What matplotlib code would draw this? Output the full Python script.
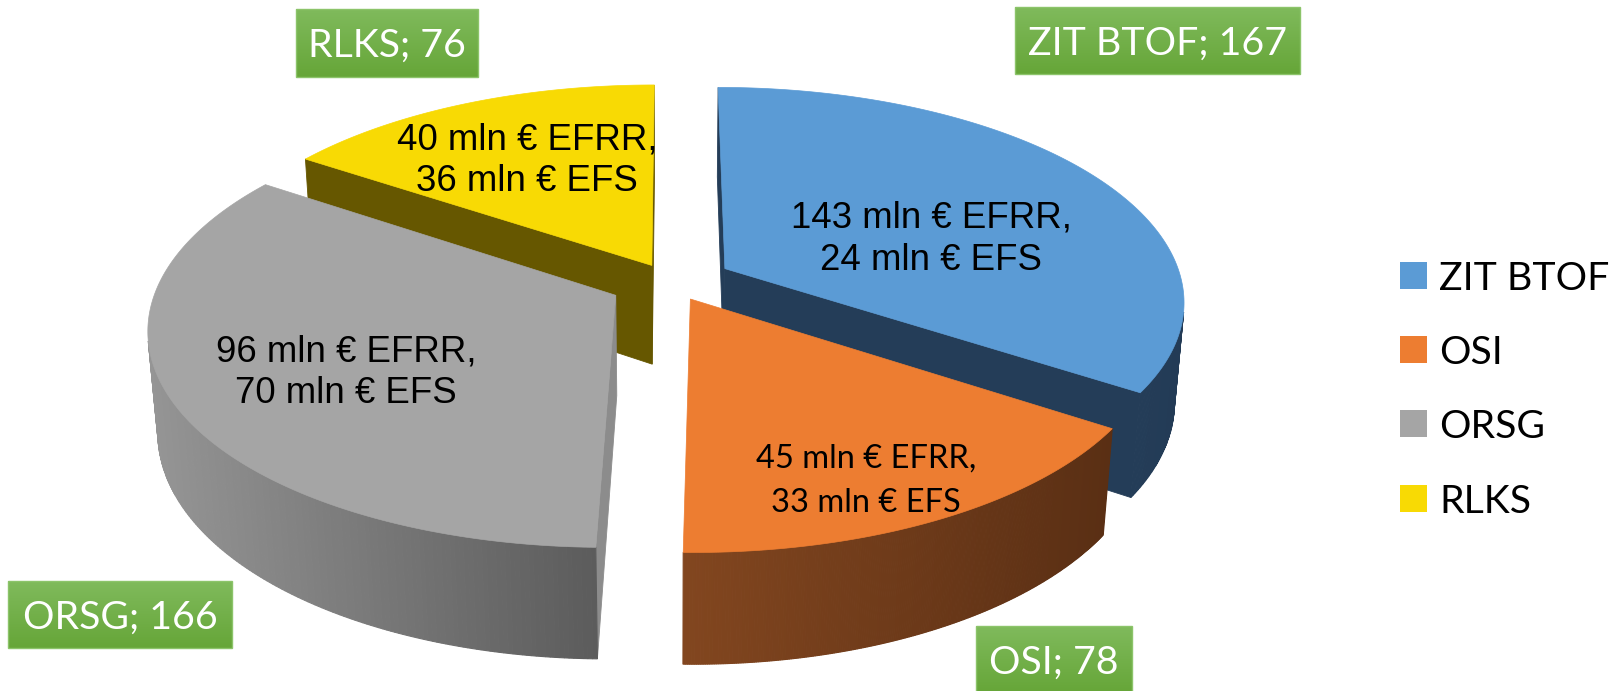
import numpy as np
import matplotlib.pyplot as plt
from matplotlib.patches import Polygon, Rectangle
from matplotlib.colors import to_rgb

# funding per area (mln €)
labels = ["ZIT BTOF", "OSI", "ORSG", "RLKS"]
efrr = [143, 45, 96, 40]
efs = [24, 33, 70, 36]
totals = [a + b for a, b in zip(efrr, efs)]

top_colors = ["#5B9BD5", "#ED7D31", "#A5A5A5", "#F8DA04"]
wall_colors = [("#243D58", "#233B56"), ("#82461F", "#5A2F14"),
               ("#959595", "#5C5C5C"), ("#665700", "#665700")]
cut_colors = ["#243D58", "#6E3A1A", "#8C8C8C", "#665700"]
explode = [0.135, 0.09, 0.135, 0.09]

W, H = 1611, 691
fig = plt.figure(figsize=(W / 100, H / 100), dpi=100)
ax = fig.add_axes([0, 0, 1, 1])

# simple perspective camera looking down on the pie
ELEV = np.radians(27.5)
DIST = 6.1
FOCAL = 2790
CX, CY = 671, 282
THICK = 0.25
cam = np.array([0.0, DIST * np.sin(ELEV), DIST * np.cos(ELEV)])


def project(X, Y, Z):
    X, Y, Z = np.asarray(X, float), np.asarray(Y, float), np.asarray(Z, float)
    depth = DIST - (Y * np.sin(ELEV) + Z * np.cos(ELEV))
    sx = CX + FOCAL * X / depth
    sy = CY - FOCAL * (Y * np.cos(ELEV) - Z * np.sin(ELEV)) / depth
    return np.column_stack([np.atleast_1d(sx), np.atleast_1d(sy)])


def facing(normal, point):
    return np.dot(normal, cam - np.asarray(point)) > 0


total = sum(totals)
bounds = np.concatenate([[0], np.cumsum(totals)]) / total * 2 * np.pi

slices = []
for i in range(len(totals)):
    t1, t2 = bounds[i], bounds[i + 1]
    mid = (t1 + t2) / 2
    ox, oz = explode[i] * np.sin(mid), -explode[i] * np.cos(mid)
    slices.append((oz, i, t1, t2, ox))

# far slices first
for oz, i, t1, t2, ox in sorted(slices):
    th = np.linspace(t1, t2, 240)
    rx, rz = ox + np.sin(th), oz - np.cos(th)
    top = project(rx, np.zeros_like(th), rz)
    bot = project(rx, -THICK * np.ones_like(th), rz)
    apex_t = project(ox, 0, oz)[0]
    apex_b = project(ox, -THICK, oz)[0]

    # radial cut faces
    for ang, sgn, k in ((t1, -1, 0), (t2, 1, -1)):
        n = sgn * np.array([np.cos(ang), 0, np.sin(ang)])
        if facing(n, (ox, 0, oz)):
            ax.add_patch(Polygon([apex_t, top[k], bot[k], apex_b], closed=True,
                                 fc=cut_colors[i], ec=cut_colors[i], lw=0.6, zorder=2))

    # outer curved wall, shaded left to right
    segs = []
    for j in range(len(th) - 1):
        tm = (th[j] + th[j + 1]) / 2
        n = np.array([np.sin(tm), 0, -np.cos(tm)])
        if facing(n, (ox + np.sin(tm), 0, oz - np.cos(tm))):
            segs.append(j)
    if segs:
        xs = top[segs, 0]
        x0, x1 = xs.min(), xs.max() + 1e-9
        c0, c1 = np.array(to_rgb(wall_colors[i][0])), np.array(to_rgb(wall_colors[i][1]))
        for j in segs:
            f = (top[j, 0] - x0) / (x1 - x0)
            col = c0 + (c1 - c0) * np.clip(f, 0, 1)
            ax.add_patch(Polygon([top[j], top[j + 1], bot[j + 1], bot[j]], closed=True,
                                 fc=col, ec=col, lw=0.8, zorder=2))

    ax.add_patch(Polygon(np.vstack([apex_t, top]), closed=True,
                         fc=top_colors[i], ec=top_colors[i], lw=0.5, zorder=2))

# value text on each slice: x centre and the two baselines
inner_pos = [(931, 227, 270), (866, 468, 512), (346, 361, 403), (527, 149, 191)]
inner_font = [("Liberation Sans", 26.4), ("Lato", 23.5),
              ("Liberation Sans", 26.4), ("Liberation Sans", 26.4)]
for i in range(len(labels)):
    fam, size = inner_font[i]
    x, b1, b2 = inner_pos[i]
    for txt, yb in ((f"{efrr[i]} mln € EFRR,", b1), (f"{efs[i]} mln € EFS", b2)):
        ax.text(x, yb, txt, ha="center", va="baseline", family=fam,
                fontsize=size, color="black", zorder=5)

# green callouts with name; total
tag_boxes = [(1015, 7, 1300, 74), (976, 626, 1132, 693),
             (8, 581, 232, 648), (296, 9, 478, 77)]
top_g, bot_g = np.array([0.50, 0.73, 0.36]), np.array([0.40, 0.65, 0.22])
grad = (top_g + (bot_g - top_g) * np.linspace(0, 1, 64)[:, None])[:, None, :]
for i, (x0, y0, x1, y1) in enumerate(tag_boxes):
    ax.imshow(grad, extent=(x0, x1, y1, y0), aspect="auto",
              interpolation="bilinear", zorder=4)
    ax.add_patch(Rectangle((x0, y0), x1 - x0, y1 - y0, fill=False,
                           ec="#8CC46A", lw=1.0, zorder=4))
    ax.text((x0 + x1) / 2, (y0 + y1) / 2 + 14, f"{labels[i]}; {totals[i]}",
            ha="center", va="baseline", family="Lato", fontsize=28.3,
            color="white", zorder=5)

# legend
leg_y = [275, 349, 423, 498]
for i, y in enumerate(leg_y):
    ax.add_patch(Rectangle((1400, y - 13.5), 27, 27, fc=top_colors[i],
                           ec="none", zorder=4))
    ax.text(1439, y + 15, labels[i], ha="left", va="baseline", family="Lato",
            fontsize=28.3, color="black", zorder=5)

ax.set_xlim(0, W)
ax.set_ylim(H, 0)
ax.axis("off")
fig.savefig("out.png", dpi=100, facecolor="white")
